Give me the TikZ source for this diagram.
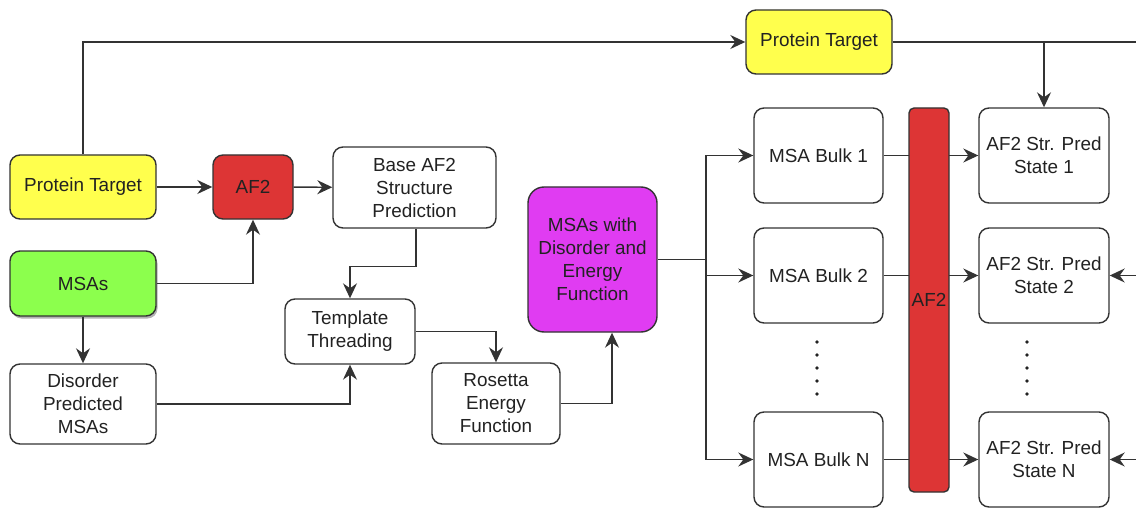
\documentclass[tikz,border=0pt]{standalone}
\usepackage{fontspec}
\setmainfont{Liberation Sans}
\usetikzlibrary{arrows.meta,shadows}
\definecolor{pyellow}{HTML}{FFFF4D}
\definecolor{pred}{HTML}{DD3535}
\definecolor{pgreen}{HTML}{8CFF4D}
\definecolor{pmag}{HTML}{E03CF2}
\definecolor{edgec}{HTML}{333333}
\definecolor{txtc}{HTML}{222222}
\begin{document}
\begin{tikzpicture}[x=1pt,y=-1pt,
  box/.style={draw=edgec, line width=1.4pt, rounded corners=10pt, fill=white, align=center,
    inner sep=0pt, text=txtc, font=\fontsize{18.9}{23}\selectfont},
  arr/.style={-{Stealth[length=15pt,width=14pt,inset=5pt]}, line width=1.4pt, draw=edgec},
  ln/.style={line width=1.4pt, draw=edgec}]
\useasboundingbox (0,0) rectangle (1136,508);
% left part
\node[box, fill=pyellow, minimum width=146pt, minimum height=64pt] (pt) at (83,187) {Protein Target};
\node[box, fill=pred, minimum width=80pt, minimum height=64pt] (af) at (253,187) {AF2};
\node[box, minimum width=163pt, minimum height=81pt] (base) at (414.5,187.5) {Base AF2\\Structure\\Prediction};
\node[box, fill=pgreen, minimum width=146pt, minimum height=65pt,
  drop shadow={shadow xshift=1.5pt, shadow yshift=-2.5pt, opacity=0.3, fill=black}] (msa) at (83,283.5) {MSAs};
\node[box, minimum width=146pt, minimum height=80pt] (dis) at (83,404) {Disorder\\Predicted\\MSAs};
\node[box, minimum width=130pt, minimum height=65pt] (tt) at (350,331.5) {Template\\Threading};
\node[box, minimum width=128pt, minimum height=81pt] (ros) at (496,403.5) {Rosetta\\Energy\\Function};
\node[box, fill=pmag, minimum width=129pt, minimum height=145pt, rounded corners=16pt] (mwd) at (592.5,259.5) {MSAs with\\Disorder and\\Energy\\Function};
% right part
\node[box, fill=pyellow, minimum width=146pt, minimum height=64pt] (pt2) at (819,42) {Protein Target};
\node[box, minimum width=129pt, minimum height=95pt] (b1) at (818.5,155.5) {MSA Bulk 1};
\node[box, minimum width=129pt, minimum height=95pt] (b2) at (818.5,275.5) {MSA Bulk 2};
\node[box, minimum width=129pt, minimum height=95pt] (bn) at (818.5,459.5) {MSA Bulk N};
\node[box, minimum width=130pt, minimum height=95pt] (s1) at (1044,155.5) {AF2 Str. Pred\\State 1};
\node[box, minimum width=130pt, minimum height=95pt] (s2) at (1044,275.5) {AF2 Str. Pred\\State 2};
\node[box, minimum width=130pt, minimum height=95pt] (sn) at (1044,459.5) {AF2 Str. Pred\\State N};
% connectors left
\draw[arr] (pt.north) |- (pt2.west);
\draw[arr] (pt) -- (af);
\draw[arr] (af) -- (base);
\draw[arr] (msa.east) -| (af.south);
\draw[arr] (msa) -- (dis);
\draw[arr] (dis.east) -| (tt.south);
\draw[arr] ([xshift=1.5pt]base.south) -- ++(0,37.5) -| (tt.north);
\draw[arr] (tt.east) -| (ros.north);
\draw[arr] (ros.east) -| ([xshift=19.5pt]mwd.south);
% fan out
\coordinate (tr) at (706,259.5);
\draw[ln] (mwd.east) -- (tr);
\draw[arr] (tr) |- (b1.west);
\draw[arr] (tr) |- (b2.west);
\draw[arr] (tr) |- (bn.west);
% through AF2 bar
\draw[arr] (b1) -- (s1);
\draw[arr] (b2) -- (s2);
\draw[arr] (bn) -- (sn);
\node[box, fill=pred, minimum width=40pt, minimum height=384pt, rounded corners=5pt] (bar) at (929,300) {AF2};
% top-right line
\coordinate (re) at (1136,42);
\draw[ln] (pt2.east) -- (re);
\draw[arr] (pt2.east -| s1.north) -- (s1.north);
\coordinate (r2) at (1136,275.5);
\coordinate (rn) at (1136,459.5);
\draw[arr] (r2) -- (s2.east);
\draw[arr] (rn) -- (sn.east);
% dots
\foreach \i in {0,...,4} {
  \fill[txtc] (817,342+13*\i) circle (1.8pt);
  \fill[txtc] (1027,342+13*\i) circle (1.8pt);
}
\end{tikzpicture}
\end{document}
